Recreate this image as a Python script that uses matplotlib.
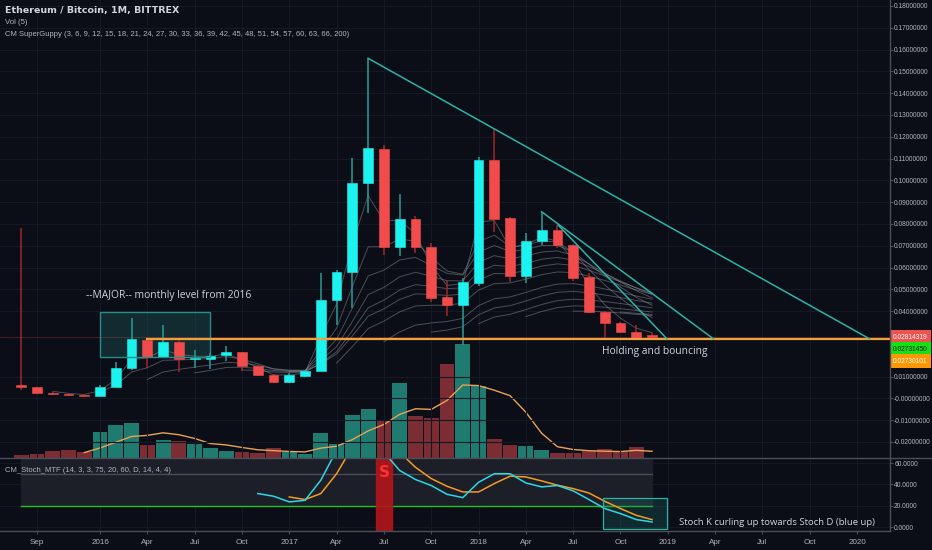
import matplotlib
matplotlib.use("Agg")
import matplotlib.pyplot as plt
import matplotlib.transforms as mtransforms
from matplotlib.lines import Line2D
from matplotlib.patches import Rectangle
import numpy as np
import pandas as pd

# ---- datos (ETH/BTC mensual, Bittrex) ----
months = pd.date_range("2015-08-01", "2018-12-01", freq="MS")
opens = [0.0062, 0.0052, 0.0025, 0.0021, 0.0016, 0.0012, 0.0054, 0.0139, 0.0268, 0.0189,
         0.0260, 0.0179, 0.0181, 0.0198, 0.0213, 0.0150, 0.0109, 0.0075, 0.0103, 0.0127,
         0.0450, 0.0581, 0.0989, 0.1145, 0.0696, 0.0822, 0.0696, 0.0467, 0.0428, 0.0528,
         0.1094, 0.0826, 0.0563, 0.0722, 0.0772, 0.0704, 0.0556, 0.0398, 0.0347, 0.0306,
         0.0290]
highs = [0.0782, 0.0054, 0.0028, 0.0024, 0.0019, 0.0062, 0.0168, 0.0369, 0.0283, 0.0337,
         0.0275, 0.0220, 0.0208, 0.0240, 0.0215, 0.0152, 0.0111, 0.0118, 0.0131, 0.0575,
         0.0589, 0.1101, 0.1560, 0.1162, 0.0938, 0.0837, 0.0714, 0.0543, 0.0552, 0.1106,
         0.1234, 0.0830, 0.0760, 0.0856, 0.0795, 0.0706, 0.0577, 0.0400, 0.0352, 0.0337,
         0.0300]
lows = [0.0040, 0.0022, 0.0017, 0.0011, 0.0009, 0.0011, 0.0051, 0.0130, 0.0140, 0.0184,
        0.0122, 0.0138, 0.0135, 0.0173, 0.0127, 0.0102, 0.0071, 0.0072, 0.0100, 0.0125,
        0.0337, 0.0415, 0.0852, 0.0658, 0.0653, 0.0667, 0.0444, 0.0379, 0.0246, 0.0515,
        0.0765, 0.0535, 0.0531, 0.0704, 0.0690, 0.0540, 0.0390, 0.0276, 0.0300, 0.0273,
        0.0275]
closes = [0.0052, 0.0025, 0.0020, 0.0014, 0.0012, 0.0054, 0.0139, 0.0272, 0.0190, 0.0260,
          0.0180, 0.0186, 0.0193, 0.0214, 0.0150, 0.0106, 0.0075, 0.0106, 0.0127, 0.0451,
          0.0581, 0.0989, 0.1150, 0.0696, 0.0822, 0.0693, 0.0462, 0.0428, 0.0533, 0.1094,
          0.0822, 0.0563, 0.0722, 0.0772, 0.0704, 0.0551, 0.0395, 0.0344, 0.0306, 0.0276,
          0.02814319]
# volumen en unidades relativas
volume = [3, 4.3, 6.6, 7.6, 5.6, 26, 33.3, 35, 13.3, 18.3,
          16.6, 14.3, 9.6, 6.6, 5.6, 5, 10, 5.6, 4.3, 24.6,
          14.3, 43.3, 49, 36.6, 75, 42.3, 40, 94, 113.6, 72.3,
          19, 12.6, 11.6, 8.3, 5, 5, 6.6, 9, 6.6, 11,
          0.3]
nan = np.nan
stoch_k = [nan] * 15 + [31.5, 29, 23.7, 25.2, 44, 72, 95, 97, 70, 53,
                        44.6, 39, 30.8, 27.7, 42, 50, 50, 41.4, 37.7, 39,
                        34, 25.9, 17.5, 12.8, 7.2, 5]
stoch_d = [nan] * 17 + [28.3, 25.9, 31.5, 50, 75, 90, 85, 70, 56,
                        45.5, 38.3, 33, 33, 40.8, 47.7, 47, 43.3, 39.3,
                        36.1, 32, 24.3, 17.5, 11.2, 7.2]
guppy_periods = [3, 6, 9, 12, 15, 18, 21, 24, 27, 30, 33, 36, 39, 42, 45, 48, 51, 54, 57, 60, 63, 66, 200]

# etiquetas del eje temporal
tick_dates = ["2015-09", "2016-01", "2016-04", "2016-07", "2016-10", "2017-01", "2017-04",
              "2017-07", "2017-10", "2018-01", "2018-04", "2018-07", "2018-10", "2019-01",
              "2019-04", "2019-07", "2019-10", "2020-01"]
tick_labels = ["Sep", "2016", "Apr", "Jul", "Oct", "2017", "Apr", "Jul", "Oct", "2018",
               "Apr", "Jul", "Oct", "2019", "Apr", "Jul", "Oct", "2020"]

# dibujos: líneas de tendencia (mes índice, precio)
level = 0.0273
trend_lines = [((22.0, 0.1560), (53.8, level)),
               ((33.0, 0.0856), (43.9, level)),
               ((34.05, 0.0795), (40.95, level))]

# colores
BG = "#0b0e17"
GRID = "#141925"
TXT = "#b2b5be"
UP = "#1cf2ee"
DOWN = "#f24b4b"
UP_WICK = "#2a9d94"
DOWN_WICK = "#a3262b"
VOL_UP = "#1f7b6f"
VOL_DOWN = "#7b2d33"
TEAL = "#2bb3a6"
ORANGE = "#f0a23a"
SEP = "#4a4e5a"
AXFONT = "Liberation Sans"

x = np.arange(len(months))
o, h, l, c = map(np.array, (opens, highs, lows, closes))
up = c >= o

def mes_idx(s):
    y, m = map(int, s.split("-"))
    return (y - 2015) * 12 + m - 8

tick_x = [mes_idx(s) for s in tick_dates]

W, H = 932, 550
fig = plt.figure(figsize=(W / 100, H / 100), dpi=100, facecolor=BG)
rect_p = [0, 1 - 458 / H, 890 / W, 458 / H]
rect_s = [0, 1 - 531 / H, 890 / W, 73 / H]
xlim = (-1.344, 55.09)

ax_v = fig.add_axes(rect_p, zorder=0)
ax = fig.add_axes(rect_p, zorder=1, sharex=ax_v)
ax_s = fig.add_axes(rect_s, zorder=1, sharex=ax_v)
ax.patch.set_visible(False)
ax_v.set_facecolor(BG)
ax_s.set_facecolor(BG)
ax.set_xlim(*xlim)

# ---- volumen + media 5 ----
ax_v.bar(x, volume, width=0.94, color=np.where(up, VOL_UP, VOL_DOWN), zorder=2)
vol_ma = pd.Series(volume).rolling(5).mean()
ax_v.plot(x, vol_ma, color="#e8a25a", lw=1, zorder=3)
ax_v.set_ylim(0, 458)
ax_v.axis("off")

# ---- panel de precio ----
ax.set_ylim(-0.02734, 0.18275)
for tx in tick_x:
    ax.axvline(tx, color=GRID, lw=0.8, zorder=0)
    ax_s.axvline(tx, color=GRID, lw=0.8, zorder=0)
pticks = [round(0.18 - 0.01 * i, 2) for i in range(15)] + [0.01, 0.0, -0.01, -0.02]
for v in pticks:
    ax.axhline(v, color=GRID, lw=0.8, zorder=0)

# guppy (EMAs con semilla SMA)
cs = pd.Series(c)
for p in guppy_periods:
    if p > len(c):
        continue
    ema = np.full(len(c), np.nan)
    ema[p - 1] = cs.iloc[:p].mean()
    a = 2 / (p + 1)
    for i in range(p, len(c)):
        ema[i] = a * c[i] + (1 - a) * ema[i - 1]
    ax.plot(x, ema, color="#9a9ca4", lw=0.7, alpha=0.45, zorder=2)

# velas
ax.vlines(x, l, h, colors=np.where(up, UP_WICK, DOWN_WICK), lw=1.1, zorder=3)
ax.bar(x, np.abs(c - o), bottom=np.minimum(o, c), width=0.62,
       color=np.where(up, UP, DOWN), edgecolor=np.where(up, UP, DOWN), lw=0.4, zorder=4)

# nivel mensual y caja 2016
ax.add_patch(Rectangle((5.0, 0.01885), 6.97, 0.0207, facecolor="#1f6f6f", alpha=0.3,
                       edgecolor="none", zorder=1))
ax.add_patch(Rectangle((5.0, 0.01885), 6.97, 0.0207, facecolor="none",
                       edgecolor="#2a8c8a", lw=1, zorder=5))
ax.plot([8, xlim[1]], [level, level], color=ORANGE, lw=1.6, zorder=5)
ax.axhline(c[-1], color="#ef5350", lw=0.6, alpha=0.3, zorder=1)
for (x0, y0), (x1, y1) in trend_lines:
    ax.plot([x0, x1], [y0, y1], color=TEAL, lw=1.1, zorder=5)

ax.text(9.37, 0.0474, "--MAJOR-- monthly level from 2016", color="#d1d4dc", fontsize=7.4,
        family="Open Sans", ha="center", va="center", zorder=6)
ax.text(40.2, 0.0213, "Holding and bouncing", color="#d1d4dc", fontsize=7.4,
        family="Open Sans", ha="center", va="center", zorder=6)

# eje derecho de precio
ax.yaxis.tick_right()
plabels = ["-0.00000000" if v == 0 else f"{v:.8f}" for v in pticks]
ax.set_yticks(pticks, plabels)
ax.tick_params(axis="y", colors=SEP, labelcolor=TXT, labelsize=4.8, length=2, pad=1)
for t in ax.get_yticklabels():
    t.set_family(AXFONT)
ax.tick_params(axis="x", bottom=False, labelbottom=False)
for sp in ax.spines.values():
    sp.set_visible(False)

# etiquetas de precio coloreadas
trans = mtransforms.blended_transform_factory(ax.transAxes, ax.transData)
price_tags = [("0.02814319", "#ef5350", "white"),
              ("0.02731450", "#14e014", "#111111"),
              ("0.02730101", "#ff9800", "white")]
for i, (txt, fc, tc) in enumerate(price_tags):
    off = mtransforms.offset_copy(trans, fig=fig, x=3, y=-i * 12, units="dots")
    ax.text(1.0, c[-1], txt, transform=off, color=tc, fontsize=4.8, family=AXFONT,
            ha="left", va="center",
            bbox=dict(boxstyle="square,pad=0.5", fc=fc, ec="none"), zorder=7, clip_on=False)

# leyenda superior
fig.text(5 / W, 1 - 11 / H, "Ethereum / Bitcoin, 1M, BITTREX", color="#d1d4dc", fontsize=6.8,
         fontweight="bold", va="center")
fig.text(5 / W, 1 - 23 / H, "Vol (5)", color=TXT, fontsize=5.6, family=AXFONT, va="center")
fig.text(5 / W, 1 - 35 / H,
         "CM SuperGuppy (" + ", ".join(str(p) for p in guppy_periods) + ")",
         color=TXT, fontsize=5.5, family=AXFONT, va="center")

# ---- panel estocástico ----
ax_s.set_ylim(-3.45, 64.67)
for v in [0, 20, 40, 60]:
    ax_s.axhline(v, color=GRID, lw=0.8, zorder=0)
ax_s.fill_between([0, len(x) - 1], 20, 75, color="#1d1f28", zorder=1)
ax_s.plot([0, len(x) - 1], [50, 50], color="#4c4f58", lw=0.9, zorder=2)
ax_s.plot([0, len(x) - 1], [20, 20], color="#1fc21f", lw=1, zorder=2)
ax_s.axvspan(22.5, 23.5, color="#b3151b", alpha=0.9, zorder=2)
ax_s.text(23, 50.7, "S", color="#ff3030", fontsize=11, fontweight="bold", ha="center",
          va="center", zorder=3)
ax_s.plot(x, stoch_d, color="#f59a23", lw=1.1, zorder=4)
ax_s.plot(x, stoch_k, color="#2fd6e6", lw=1.1, zorder=5)
ax_s.add_patch(Rectangle((36.9, -1.87), 4.07, 28.97, facecolor="#1f7a7a", alpha=0.25,
                         edgecolor="none", zorder=3))
ax_s.add_patch(Rectangle((36.9, -1.87), 4.07, 28.97, facecolor="none", edgecolor=TEAL,
                         lw=0.9, zorder=6))
ax_s.text(47.9, 4.3, "Stoch K curling up towards Stoch D (blue up)", color="#d1d4dc",
          fontsize=6.8, family="Open Sans", ha="center", va="center", zorder=6)
ax_s.text(5 / 890, 1 - 13 / 73, "CM_Stoch_MTF (14, 3, 3, 75, 20, 60, D, 14, 4, 4)",
          transform=ax_s.transAxes, color=TXT, fontsize=5.5, family=AXFONT, va="center",
          zorder=7)

ax_s.yaxis.tick_right()
ax_s.set_yticks([0, 20, 40, 60], ["0.0000", "20.0000", "40.0000", "60.0000"])
ax_s.set_xticks(tick_x, tick_labels)
ax_s.tick_params(axis="y", colors=SEP, labelcolor=TXT, labelsize=4.8, length=2, pad=1)
ax_s.tick_params(axis="x", colors=SEP, labelcolor=TXT, labelsize=5.8, length=2, pad=4)
for t in ax_s.get_yticklabels() + ax_s.get_xticklabels():
    t.set_family(AXFONT)
for sp in ax_s.spines.values():
    sp.set_visible(False)

# separadores
fig.add_artist(Line2D([890 / W, 890 / W], [1 - 531 / H, 1], color=SEP, lw=1))
fig.add_artist(Line2D([0, 1], [1 - 458 / H, 1 - 458 / H], color=SEP, lw=1))
fig.add_artist(Line2D([0, 890 / W], [1 - 531 / H, 1 - 531 / H], color=SEP, lw=1))

fig.savefig("out.png", dpi=100, facecolor=BG)
